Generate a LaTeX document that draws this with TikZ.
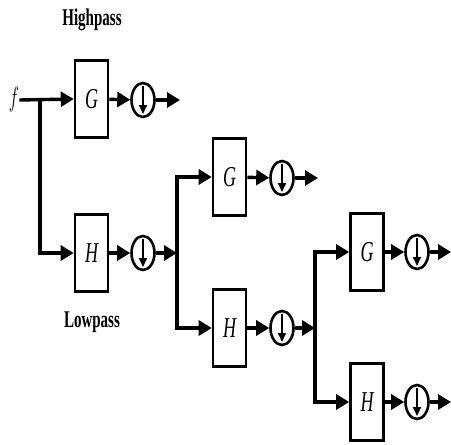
\documentclass[tikz,border=0pt]{standalone}
\usepackage{fontspec}
\setmainfont{Liberation Serif}
\usetikzlibrary{arrows.meta,shapes.geometric}
\newcommand{\vst}[1]{\scalebox{1}[1.6]{#1}}
\tikzset{
  x=1pt,y=-1pt,
  wire/.style={line width=3.4pt},
  arr/.style={wire,-{Triangle[length=13pt,width=15pt]}},
  fbox/.style={draw,line width=2.6pt,minimum width=33pt,minimum height=77pt,inner sep=0pt,font=\fontsize{18}{18}\selectfont\itshape},
  down/.style={draw,ellipse,line width=2.6pt,minimum width=23pt,minimum height=34pt,inner sep=0pt},
  lbl/.style={font=\fontsize{15}{15}\selectfont\bfseries,inner sep=0pt}
}
\begin{document}
\begin{tikzpicture}
\useasboundingbox (0,0) rectangle (451,445);
% labels
\node[lbl] (hp) at (92,20) {\vst{Highpass}};
\node[lbl] (lp) at (92,322) {\vst{Lowpass}};
\node[inner sep=0pt,font=\fontsize{19}{19}\selectfont\itshape] (f) at (14,100) {\vst{$f$}};
% stage 1
\coordinate (s1) at (40,100);
\node[fbox] (G1) at (91.5,99) {\vst{G}};
\node[fbox] (H1) at (91.5,253) {\vst{H}};
\node[down] (d1) at (143,100) {};
\node[down] (e1) at (143,253) {};
\coordinate (o1) at (180,100);
\coordinate (s2) at (177,253);
% stage 2
\node[fbox] (G2) at (229.5,177) {\vst{G}};
\node[fbox] (H2) at (229.5,328) {\vst{H}};
\node[down] (d2) at (282,178) {};
\node[down] (e2) at (282,328) {};
\coordinate (o2) at (318,178);
\coordinate (s3) at (315,328);
% stage 3
\node[fbox] (G3) at (367,252) {\vst{G}};
\node[fbox] (H3) at (367,402) {\vst{H}};
\node[down] (d3) at (417,252) {};
\node[down] (e3) at (417,402) {};
\coordinate (o3) at (451,252);
\coordinate (o4) at (451,402);
% connectors
\draw[arr] (f.east) -- (G1.west);
\draw[arr] (s1) |- (H1.west);
\draw[arr] (G1) -- (d1);
\draw[arr] (d1) -- (o1);
\draw[arr] (H1) -- (e1);
\draw[arr] (e1) -- (s2);
\draw[arr] (s2) |- (G2.west);
\draw[arr] (s2) |- (H2.west);
\draw[arr] (G2) -- (d2);
\draw[arr] (d2) -- (o2);
\draw[arr] (H2) -- (e2);
\draw[arr] (e2) -- (s3);
\draw[arr] (s3) |- (G3.west);
\draw[arr] (s3) |- (H3.west);
\draw[arr] (G3) -- (d3);
\draw[arr] (d3) -- (o3);
\draw[arr] (H3) -- (e3);
\draw[arr] (e3) -- (o4);
% down arrows inside circles
\foreach \c in {d1,e1,d2,e2,d3,e3}{
  \draw[line width=1.8pt,-{Triangle[length=9pt,width=8pt]}] ([yshift=14pt]\c.center) -- ([yshift=-14pt]\c.center);
}
\end{tikzpicture}
\end{document}
